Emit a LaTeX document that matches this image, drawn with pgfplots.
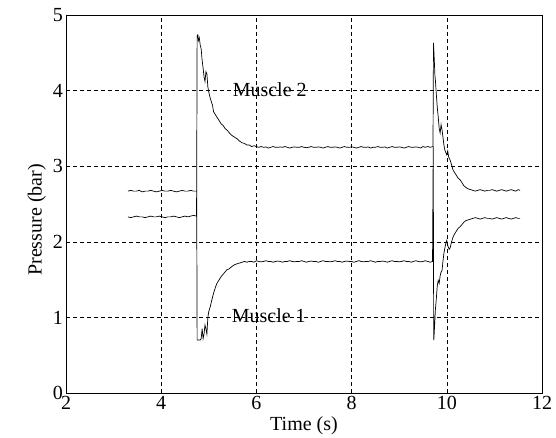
\documentclass[border=0pt]{standalone}
\usepackage{fontspec}
\setmainfont{Liberation Serif}
\usepackage{pgfplots}
\pgfplotsset{compat=1.18}
\begin{document}
\begin{tikzpicture}
\begin{axis}[
  scale only axis,
  width=476bp, height=378bp,
  xmin=2, xmax=12, ymin=0, ymax=5,
  xtick={2,4,...,12}, ytick={0,1,...,5},
  font=\fontsize{20bp}{23bp}\selectfont,
  /pgf/number format/assume math mode=true,
  major tick length=0pt,
  axis line style={black, line width=0.9bp},
  grid=major,
  major grid style={black, line width=0.5bp, dash pattern=on 4bp off 3bp},
  xticklabel style={inner sep=3bp},
  yticklabel style={inner sep=3bp},
  xlabel={Time (s)},
  ylabel={Pressure (bar)},
  ylabel style={at={(axis description cs:-0.035,0.458)}, anchor=south},
]
% Muscle 2
\addplot[black, line width=0.7bp] coordinates {
(3.30,2.67)(3.36,2.68)(3.42,2.67)(3.48,2.67)(3.54,2.68)(3.60,2.66)(3.66,2.67)(3.72,2.67)(3.78,2.68)(3.84,2.67)(3.90,2.66)(3.96,2.67)(4.02,2.68)(4.08,2.67)(4.14,2.67)(4.20,2.68)(4.26,2.67)(4.32,2.66)(4.38,2.67)(4.44,2.68)(4.50,2.67)(4.56,2.67)(4.62,2.68)(4.68,2.67)(4.745,2.67)
(4.755,4.73)(4.77,4.74)(4.78,4.66)(4.80,4.70)(4.82,4.60)(4.84,4.55)(4.86,4.40)(4.88,4.30)(4.90,4.18)(4.92,4.12)(4.94,4.25)(4.96,4.22)(4.98,4.05)(5.00,3.98)(5.03,3.90)(5.06,3.84)(5.08,3.80)(5.10,3.72)(5.14,3.68)(5.18,3.64)(5.22,3.60)(5.26,3.56)(5.30,3.54)(5.34,3.50)(5.38,3.48)(5.42,3.45)(5.46,3.42)(5.50,3.40)(5.55,3.38)(5.60,3.36)(5.65,3.33)(5.70,3.31)(5.75,3.30)(5.80,3.28)(5.85,3.28)(5.90,3.26)(5.95,3.27)(6.00,3.26)
(6.05,3.25)(6.10,3.26)(6.15,3.25)(6.20,3.255)(6.25,3.24)(6.30,3.25)(6.35,3.26)(6.40,3.25)(6.45,3.25)(6.50,3.255)(6.55,3.25)(6.60,3.26)(6.65,3.25)(6.70,3.24)(6.75,3.25)(6.80,3.255)(6.85,3.25)(6.90,3.25)(6.95,3.26)(7.00,3.25)(7.05,3.245)(7.10,3.25)(7.15,3.26)(7.20,3.25)(7.25,3.25)(7.30,3.255)(7.35,3.25)(7.40,3.24)(7.45,3.25)(7.50,3.26)(7.55,3.25)(7.60,3.25)(7.65,3.255)(7.70,3.25)(7.75,3.24)(7.80,3.25)(7.85,3.26)(7.90,3.25)(7.95,3.25)(8.00,3.255)(8.05,3.25)(8.10,3.24)(8.15,3.25)(8.20,3.26)(8.25,3.25)(8.30,3.25)(8.35,3.255)(8.40,3.24)(8.45,3.25)(8.50,3.25)(8.55,3.26)(8.60,3.25)(8.65,3.25)(8.70,3.255)(8.75,3.24)(8.80,3.25)(8.85,3.26)(8.90,3.25)(8.95,3.25)(9.00,3.255)(9.05,3.25)(9.10,3.24)(9.15,3.25)(9.20,3.26)(9.25,3.25)(9.30,3.25)(9.35,3.255)(9.40,3.25)(9.45,3.24)(9.50,3.26)(9.55,3.25)(9.60,3.26)(9.65,3.25)(9.71,3.26)
(9.72,4.63)(9.73,4.50)(9.74,4.36)(9.75,4.20)(9.76,4.14)(9.78,3.95)(9.80,3.78)(9.82,3.65)(9.84,3.50)(9.86,3.44)(9.88,3.55)(9.90,3.48)(9.92,3.38)(9.94,3.28)(9.96,3.21)(9.98,3.18)(10.00,3.15)(10.02,3.20)(10.04,3.12)(10.07,3.08)(10.10,3.02)(10.13,2.95)(10.16,2.92)(10.20,2.88)(10.24,2.84)(10.28,2.82)(10.32,2.78)(10.36,2.74)(10.40,2.72)(10.45,2.70)(10.50,2.69)
(10.55,2.68)(10.60,2.67)(10.65,2.68)(10.70,2.69)(10.75,2.68)(10.80,2.67)(10.85,2.68)(10.90,2.68)(10.95,2.69)(11.00,2.68)(11.05,2.67)(11.10,2.68)(11.15,2.69)(11.20,2.68)(11.25,2.67)(11.30,2.68)(11.35,2.69)(11.40,2.68)(11.45,2.67)(11.50,2.69)(11.54,2.68)
};
% Muscle 1
\addplot[black, line width=0.7bp] coordinates {
(3.30,2.33)(3.36,2.32)(3.42,2.33)(3.48,2.34)(3.54,2.33)(3.60,2.33)(3.66,2.32)(3.72,2.33)(3.78,2.34)(3.84,2.33)(3.90,2.33)(3.96,2.34)(4.02,2.33)(4.08,2.32)(4.14,2.33)(4.20,2.33)(4.26,2.34)(4.32,2.33)(4.38,2.32)(4.44,2.33)(4.50,2.34)(4.56,2.33)(4.62,2.34)(4.68,2.35)(4.74,2.34)
(4.745,2.67)(4.755,0.70)(4.78,0.70)(4.82,0.70)(4.84,0.72)(4.86,0.85)(4.88,0.72)(4.90,0.78)(4.92,0.90)(4.94,0.85)(4.96,0.78)(4.98,1.00)(5.00,1.08)(5.03,1.14)(5.06,1.22)(5.10,1.32)(5.14,1.40)(5.17,1.45)(5.22,1.50)(5.26,1.54)(5.30,1.57)(5.34,1.60)(5.38,1.63)(5.42,1.64)(5.46,1.66)(5.50,1.68)(5.55,1.70)(5.60,1.71)(5.65,1.72)(5.70,1.73)(5.75,1.74)(5.80,1.73)(5.85,1.74)(5.90,1.74)(5.95,1.73)(6.00,1.75)
(6.05,1.74)(6.10,1.735)(6.15,1.74)(6.20,1.75)(6.25,1.74)(6.30,1.74)(6.35,1.73)(6.40,1.74)(6.45,1.745)(6.50,1.74)(6.55,1.73)(6.60,1.74)(6.65,1.74)(6.70,1.75)(6.75,1.74)(6.80,1.735)(6.85,1.74)(6.90,1.74)(6.95,1.75)(7.00,1.74)(7.05,1.73)(7.10,1.74)(7.15,1.745)(7.20,1.74)(7.25,1.74)(7.30,1.73)(7.35,1.74)(7.40,1.75)(7.45,1.74)(7.50,1.74)(7.55,1.735)(7.60,1.74)(7.65,1.75)(7.70,1.74)(7.75,1.74)(7.80,1.73)(7.85,1.74)(7.90,1.745)(7.95,1.74)(8.00,1.74)(8.05,1.73)(8.10,1.74)(8.15,1.75)(8.20,1.74)(8.25,1.735)(8.30,1.74)(8.35,1.74)(8.40,1.75)(8.45,1.74)(8.50,1.73)(8.55,1.74)(8.60,1.74)(8.65,1.745)(8.70,1.74)(8.75,1.73)(8.80,1.74)(8.85,1.75)(8.90,1.74)(8.95,1.74)(9.00,1.735)(9.05,1.74)(9.10,1.75)(9.15,1.74)(9.20,1.74)(9.25,1.73)(9.30,1.74)(9.35,1.75)(9.40,1.74)(9.45,1.735)(9.50,1.74)(9.55,1.75)(9.60,1.74)(9.65,1.73)(9.70,1.74)
(9.715,3.26)(9.725,0.70)(9.73,0.72)(9.74,0.85)(9.75,0.97)(9.76,1.10)(9.78,1.25)(9.80,1.42)(9.82,1.49)(9.84,1.45)(9.86,1.55)(9.88,1.60)(9.90,1.62)(9.92,1.75)(9.94,1.85)(9.96,1.92)(9.98,1.98)(10.00,2.02)(10.02,1.95)(10.05,1.90)(10.07,1.92)(10.10,2.00)(10.13,2.06)(10.16,2.10)(10.20,2.14)(10.24,2.18)(10.28,2.20)(10.32,2.23)(10.36,2.26)(10.40,2.28)(10.45,2.29)(10.50,2.30)
(10.55,2.31)(10.60,2.32)(10.65,2.31)(10.70,2.30)(10.75,2.31)(10.80,2.32)(10.85,2.31)(10.90,2.31)(10.95,2.30)(11.00,2.31)(11.05,2.32)(11.10,2.31)(11.15,2.30)(11.20,2.31)(11.25,2.32)(11.30,2.31)(11.35,2.30)(11.40,2.31)(11.45,2.32)(11.50,2.31)(11.54,2.31)
};
\node[anchor=west, inner sep=0pt] at (axis cs:5.5,4.01) {Muscle 2};
\node[anchor=west, inner sep=0pt] at (axis cs:5.48,1.02) {Muscle 1};
\end{axis}
\pgfresetboundingbox
\path[use as bounding box] ([shift={(-66bp,-45bp)}]current axis.south west) rectangle ([shift={(14bp,15bp)}]current axis.north east);
\end{tikzpicture}
\end{document}
